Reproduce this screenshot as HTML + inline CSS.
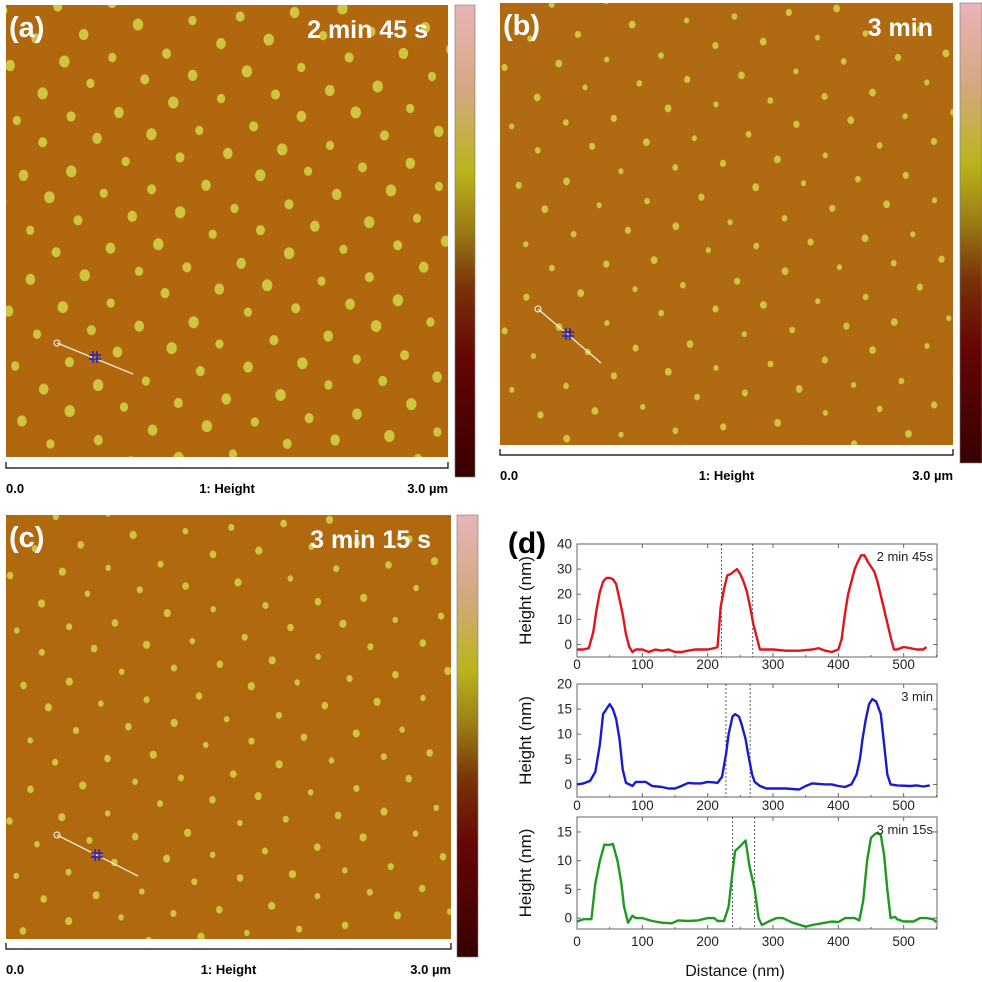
<!DOCTYPE html>
<html><head><meta charset="utf-8">
<style>
html,body{margin:0;padding:0;background:#fff;}
svg{display:block;font-family:"Liberation Sans",Arial,sans-serif;}
</style></head>
<body>
<svg id="fig" width="982" height="982" viewBox="0 0 982 982" xmlns="http://www.w3.org/2000/svg">
<defs>
<linearGradient id="cbar" x1="0" y1="0" x2="0" y2="1">
<stop offset="0" stop-color="#e8b4b8"/>
<stop offset="0.18" stop-color="#d4a880"/>
<stop offset="0.35" stop-color="#b9b41c"/>
<stop offset="0.48" stop-color="#9a7a14"/>
<stop offset="0.6" stop-color="#7a3208"/>
<stop offset="0.75" stop-color="#640606"/>
<stop offset="1" stop-color="#380000"/>
</linearGradient>
</defs>
<g id="afm"></g>
<g id="plots"></g>
</svg>
<script>
// ---- profile data (distance nm, height nm) ----
const redX=[0,10,18,25,30,35,40,45,50,55,60,65,70,75,80,85,90,95,100,110,120,130,140,150,160,170,180,190,200,210,215,220,225,230,235,240,245,250,255,260,265,270,275,280,290,300,320,340,360,370,380,390,400,405,410,415,420,425,430,435,440,445,450,455,460,470,480,485,490,500,510,520,530,535];
const redY=[-2,-2,-1.5,5,14,21,25,26.5,26.5,26,24,18,12,4,-1,-3,-2,-2,-2,-3,-2,-2.5,-2,-3,-3,-2.5,-2,-2,-2,-1.5,-1,15,22,27.5,28,29,30,28,25,21,15,8,3,-2,-2,-2,-2.5,-2.5,-2,-1.5,-2.5,-3,-2,2,12,20,25,30,33,35.5,35.5,33,31,29,25,14,3,-2,-2,-1,-1.5,-2,-2,-1];
const blueX=[0,10,20,28,35,40,45,50,55,60,65,70,75,80,85,90,100,105,115,130,140,150,160,170,180,190,200,210,215,222,228,232,238,242,248,252,258,262,268,272,280,290,320,340,350,360,380,390,400,410,420,428,433,437,442,447,452,458,465,470,475,480,490,510,520,530,540];
const blueY=[0,0.2,0.7,2.5,8,14,15,16,15,13,9,3,0.3,0,-0.3,0.5,0.5,0.5,-0.3,-0.5,-0.8,-0.8,-0.3,0.3,0.2,0.2,0.5,0.4,0.3,1.5,6,10,13.5,14,13.5,12,9,6,2,0.5,-0.3,-0.8,-0.8,-1,-0.3,0.2,0,0,-0.3,-0.5,0,2,5,9,13,16,17,16.5,14,8,2,0,-0.2,-0.3,-0.2,-0.4,-0.2];
const greenX=[0,10,22,28,35,42,48,55,62,68,72,78,85,90,100,115,130,145,155,170,185,200,210,215,225,232,238,242,248,258,264,272,278,283,295,305,315,330,350,360,380,390,400,410,425,432,438,444,450,458,465,470,475,480,487,490,500,515,525,535,545,550];
const greenY=[-0.6,-0.2,-0.2,6,10,12.8,12.7,12.9,10,6,2,-0.8,0.4,0,0,-0.5,-0.8,-0.9,-0.4,-0.5,-0.4,0,0,-0.5,-0.5,2,8,11.7,12.3,13.5,9,5,0,-1.2,-0.5,0,0,-0.8,-1.5,-1.2,-0.8,-0.6,-0.7,0,0,-0.4,3,10,14,14.8,14.5,11,5,0,0.2,-0.2,-0.6,-0.6,0,0,-0.2,-0.7];
const xTicks=[0,100,200,300,400,500];
const redYTicks=[0,10,20,30,40];
const blueYTicks=[0,5,10,15,20];
const greenYTicks=[0,5,10,15];
const redMarkers=[221,269];
const blueMarkers=[228,265];
const greenMarkers=[238,272];

const NS="http://www.w3.org/2000/svg";
function mk(tag,attrs,parent,text){const e=document.createElementNS(NS,tag);for(const k in attrs)e.setAttribute(k,attrs[k]);if(text!==undefined)e.textContent=text;parent.appendChild(e);return e;}

// ---- AFM panels (decorative texture) ----
const afm=document.getElementById('afm');
function panel(id,x0,y0,w,h,lx,ly,r,bg,lbl,title,cb,scale,line){
  const g=mk('g',{},afm);
  
  
  const cid='clip'+id;
  const cp=mk('clipPath',{id:cid},g);mk('rect',{x:x0,y:y0,width:w,height:h},cp);
  const im=mk('g',{'clip-path':'url(#'+cid+')'},g);
  mk('rect',{x:x0,y:y0,width:w,height:h,fill:bg},im);
  const ang=-0.1, ca=Math.cos(ang), sa=Math.sin(ang);
  for(let j=-4;j<Math.ceil(h/ly)+6;j++)for(let i=-6;i<Math.ceil(w/lx)+6;i++){
    const ux=i*lx+(j%2?lx/2:0), uy=j*ly;
    const px=x0+ux*ca-uy*sa+((i*7+j*13)%5-2)*1.3, py=y0+8+ux*sa+uy*ca+((i*11+j*3)%5-2)*1.2;
    if(px<x0-8||px>x0+w+8||py<y0-8||py>y0+h+8)continue;
    const rr=r*(0.85+((i*5+j*9)%4)*0.08);
    mk('ellipse',{cx:px.toFixed(1),cy:py.toFixed(1),rx:rr.toFixed(1),ry:(rr*1.15).toFixed(1),fill:'#cfc53e'},im);
  }
  const lb=mk('text',{x:x0+3,y:y0+32,'font-size':29,'font-weight':'bold',fill:'#fff'},g,lbl);
  
  const tt=mk('text',{x:x0+w-20,y:y0+33,'font-size':25,'font-weight':'bold',fill:'#fff','text-anchor':'end'},g,title);
  
  const c=mk('rect',{x:cb[0],y:y0,width:cb[1],height:cb[2]-y0,fill:'url(#cbar)',stroke:'#777','stroke-width':0.6},g);
  
  const sb=mk('path',{d:`M${x0} ${scale-6}V${scale}H${x0+w}V${scale-6}`,fill:'none',stroke:'#000','stroke-width':1.2},g);
  
  const ty=scale+25;
  mk('text',{x:x0,y:ty,'font-size':13,'font-weight':'bold'},g,'0.0');
  mk('text',{x:x0+w/2,y:ty,'font-size':13,'font-weight':'bold','text-anchor':'middle'},g,'1: Height');
  mk('text',{x:x0+w,y:ty,'font-size':13,'font-weight':'bold','text-anchor':'end'},g,'3.0 µm');
  const [lx1,ly1,lx2,ly2,cx,cy]=line;
  const ln=mk('g',{},g);
  mk('line',{x1:lx1,y1:ly1,x2:lx2,y2:ly2,stroke:'#f4f0d8','stroke-width':1.3},ln);
  mk('circle',{cx:lx1,cy:ly1,r:3,fill:'none',stroke:'#fff','stroke-width':1},ln);
  mk('path',{d:`M${cx-6} ${cy-2}H${cx+6}M${cx-6} ${cy+2}H${cx+6}M${cx-2} ${cy-6}V${cy+6}M${cx+2} ${cy-6}V${cy+6}`,stroke:'#2020c0','stroke-width':1.4},ln);
}
panel('a',6,5,442,452,52,27,4.8,'#b0670d','(a)','2 min 45 s',[455,20,477],468,[57,343,133,374,95,357]);
panel('b',500,3,453,442,52,29,3.1,'#b06a12','(b)','3 min',[960,22,463],455,[538,309,601,363,568,334]);
panel('c',6,515,445,424,50,27,3.3,'#b0690f','(c)','3 min 15 s',[457,21,957],949,[57,835,138,876,97,855]);

// ---- line profile plots ----
const plots=document.getElementById('plots');
function plot(id,X,Y,yT,mks,color,top,bot,ymin,ymax,title,xlabY){
  const L=577,R=937,xmin=0,xmax=551;
  const sx=v=>L+(v-xmin)/(xmax-xmin)*(R-L), sy=v=>bot-(v-ymin)/(ymax-ymin)*(bot-top);
  const g=mk('g',{},plots);
  
  
  mk('rect',{x:L,y:top,width:R-L,height:bot-top,fill:'none',stroke:'#666','stroke-width':1},g);
  xTicks.forEach(t=>{const x=sx(t);
    mk('line',{x1:x,y1:bot,x2:x,y2:bot-4,stroke:'#666'},g);mk('line',{x1:x,y1:top,x2:x,y2:top+4,stroke:'#666'},g);
    mk('line',{x1:x+sx(50)-sx(0),y1:bot,x2:x+sx(50)-sx(0),y2:bot-2,stroke:'#666'},g);
    const tl=mk('text',{x:x,y:xlabY,'font-size':13.5,'text-anchor':'middle',fill:'#222'},g,String(t));
    });
  yT.forEach(t=>{const y=sy(t);
    mk('line',{x1:L,y1:y,x2:L+4,y2:y,stroke:'#666'},g);mk('line',{x1:R,y1:y,x2:R-4,y2:y,stroke:'#666'},g);
    const tl=mk('text',{x:L-5,y:y+4.5,'font-size':13.5,'text-anchor':'end',fill:'#222'},g,String(t));
    });
  mks.forEach(m=>{const ml=mk('line',{x1:sx(m),y1:top,x2:sx(m),y2:bot,stroke:'#334','stroke-width':0.8,'stroke-dasharray':'2,2'},g);
    });
  const d=X.map((x,i)=>(i?'L':'M')+sx(x).toFixed(1)+' '+sy(Y[i]).toFixed(1)).join('');
  const p=mk('path',{d:d,fill:'none',stroke:color,'stroke-width':2.4,'stroke-linejoin':'round'},g);
  
  const tt=mk('text',{x:R-4,y:top+17,'font-size':13,'text-anchor':'end',fill:'#222'},g,title);
  
  const yl=mk('text',{x:0,y:0,'font-size':17,'text-anchor':'middle',fill:'#111',transform:`translate(531,${(top+bot)/2}) rotate(-90)`},g,'Height (nm)');
  
}
plot('red',redX,redY,redYTicks,redMarkers,'#e0141c',544,657,-5,40,'2 min 45s',669);
plot('blue',blueX,blueY,blueYTicks,blueMarkers,'#1a1ad0',684,797,-2.5,20,'3 min',810);
plot('green',greenX,greenY,greenYTicks,greenMarkers,'#1e9a22',817,929,-1.9,17.6,'3 min 15s',946);
const dl=mk('text',{x:527,y:553,'font-size':30,'font-weight':'bold',fill:'#000','text-anchor':'middle'},plots,'(d)');


const xt=mk('text',{x:735,y:976,'font-size':16,'text-anchor':'middle',fill:'#111'},plots,'Distance (nm)');


</script>
</body></html>
